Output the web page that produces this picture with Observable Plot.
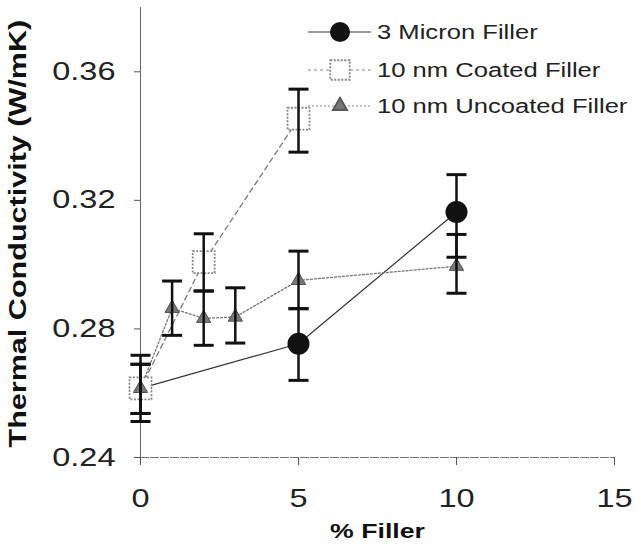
<!DOCTYPE html>
<html><head><meta charset="utf-8">
<script src="https://cdn.jsdelivr.net/npm/d3@7"></script>
<script src="https://cdn.jsdelivr.net/npm/@observablehq/plot@0.6"></script>
<style>
html,body{margin:0;padding:0;background:#fff;}
#wrap{position:relative;width:641px;height:551px;font-family:"Liberation Sans",Arial,Helvetica,sans-serif;}
#legend{position:absolute;left:0;top:0;pointer-events:none;}
</style></head><body><div id="wrap"></div>
<script>
// ---- data ----
const seriesNames = ["3 Micron Filler", "10 nm Coated Filler", "10 nm Uncoated Filler"];

const micronX  = [0, 5, 10];
const micronY  = [0.2615, 0.2754, 0.3164];
const micronLo = [0.2512, 0.2640, 0.3023];
const micronHi = [0.2718, 0.2863, 0.3280];

const coatedX  = [0, 2, 5];
const coatedY  = [0.2615, 0.3008, 0.3454];
const coatedLo = [0.2537, 0.2918, 0.3350];
const coatedHi = [0.2690, 0.3096, 0.3546];

const uncoatedX  = [0, 1, 2, 3, 5, 10];
const uncoatedY  = [0.2615, 0.2864, 0.2833, 0.2837, 0.2951, 0.2995];
const uncoatedLo = [0.2537, 0.2780, 0.2749, 0.2756, 0.2863, 0.2911];
const uncoatedHi = [0.2690, 0.2949, 0.2918, 0.2928, 0.3042, 0.3094];

const xTicks = [0, 5, 10, 15];
const yTicks = [0.24, 0.28, 0.32, 0.36];
const xLabel = "% Filler";
const yLabel = "Thermal Conductivity (W/mK)";

// ---- build tables ----
function rows(name, X, Y, L, H) {
  return X.map((x, i) => ({series: name, x, y: Y[i], lo: L[i], hi: H[i]}));
}
const micron = rows(seriesNames[0], micronX, micronY, micronLo, micronHi);
const coated = rows(seriesNames[1], coatedX, coatedY, coatedLo, coatedHi);
const uncoated = rows(seriesNames[2], uncoatedX, uncoatedY, uncoatedLo, uncoatedHi);
const all = [...micron, ...coated, ...uncoated];

const cap = {draw(ctx) { ctx.moveTo(-10, 0); ctx.lineTo(10, 0); }};
const FONT = '"Liberation Sans", Arial, Helvetica, sans-serif';
const STRETCH = 1.3;

const chart = Plot.plot({
  width: 641, height: 551,
  marginLeft: 140, marginRight: 27, marginTop: 7, marginBottom: 94,
  style: {fontFamily: FONT, fontSize: "25px", background: "white", color: "#222"},
  x: {domain: [0, 15]},
  y: {domain: [0.24, 0.38]},
  marks: [
    Plot.ruleX([0], {y1: 0.24, y2: 0.38, stroke: "#666", strokeWidth: 1}),
    Plot.ruleY([0.24], {x1: 0, x2: 15, stroke: "#777", strokeWidth: 1, strokeDasharray: "9,1"}),
    Plot.axisX({ticks: xTicks, tickSize: 8, tickPadding: 24, fontSize: 25, label: null, stroke: "#555", fill: "#222", tickFormat: d => String(d)}),
    Plot.axisY({ticks: yTicks, tickSize: 6, tickPadding: 19, fontSize: 25, label: null, stroke: "#555", fill: "#222", tickFormat: d3.format(".2f")}),
    Plot.line(micron, {x: "x", y: "y", stroke: "#333", strokeWidth: 1.2}),
    Plot.line(coated, {x: "x", y: "y", stroke: "#777", strokeWidth: 1.3, strokeDasharray: "5,4"}),
    Plot.line(uncoated, {x: "x", y: "y", stroke: "#777", strokeWidth: 1.3, strokeDasharray: "2,2"}),
    Plot.dot(micron, {x: "x", y: "y", symbol: "circle", r: 11, fill: "#111", stroke: "none"}),
    Plot.dot(coated, {x: "x", y: "y", symbol: "square", r: 12.4, fill: "white", stroke: "#888", strokeWidth: 1.8, strokeDasharray: "2,1.5"}),
    Plot.dot(uncoated, {x: "x", y: "y", symbol: "triangle", r: 5.3, fill: "#777", stroke: "#555", strokeWidth: 1}),
    Plot.ruleX(all, {x: "x", y1: "lo", y2: "hi", stroke: "#111", strokeWidth: 2.5}),
    Plot.dot(all, {x: "x", y: "lo", symbol: cap, fill: "none", stroke: "#111", strokeWidth: 3}),
    Plot.dot(all, {x: "x", y: "hi", symbol: cap, fill: "none", stroke: "#111", strokeWidth: 3}),
    Plot.text([xLabel], {text: d => d, frameAnchor: "bottom", dy: 80, lineAnchor: "bottom", fontSize: 20.5, fontWeight: "bold", fill: "#111"}),
    Plot.text([yLabel], {text: d => d, frameAnchor: "bottom-left", rotate: -90, textAnchor: "start", dx: -114.5, dy: -10, fontSize: 23.5, fontWeight: "bold", fill: "#111"})
  ]
});

const wrap = document.getElementById("wrap");
wrap.appendChild(chart);

// stretch all text along its own baseline to match the wide lettering
for (const t of chart.querySelectorAll("text")) {
  const L = t.getComputedTextLength();
  if (L > 0) {
    t.setAttribute("textLength", (L * STRETCH).toFixed(2));
    t.setAttribute("lengthAdjust", "spacingAndGlyphs");
  }
}

// ---- legend overlay ----
const legendRows = [
  {name: seriesNames[0], symbol: d3.symbolCircle, r: 10, fill: "#111", stroke: "none", dash: null, line: "#333", lineDash: null},
  {name: seriesNames[1], symbol: d3.symbolSquare, r: 11, fill: "white", stroke: "#888", dash: "2,1.5", line: "#888", lineDash: "3,3"},
  {name: seriesNames[2], symbol: d3.symbolTriangle, r: 5.3, fill: "#777", stroke: "#555", dash: null, line: "#888", lineDash: "2,2"}
];
const rowY = [32, 70, 106];
const lsvg = d3.select(wrap).append("svg").attr("id", "legend").attr("width", 641).attr("height", 551);
legendRows.forEach((d, i) => {
  const g = lsvg.append("g").attr("transform", `translate(0,${rowY[i]})`);
  g.append("line").attr("x1", 308).attr("x2", 371).attr("y1", 0).attr("y2", 0)
    .attr("stroke", d.line).attr("stroke-width", 1.2).attr("stroke-dasharray", d.lineDash);
  g.append("path").attr("transform", "translate(340,0)")
    .attr("d", d3.symbol(d.symbol, Math.PI * d.r * d.r)())
    .attr("fill", d.fill).attr("stroke", d.stroke).attr("stroke-width", 1.8).attr("stroke-dasharray", d.dash);
  g.append("text").attr("transform", `translate(377,0) scale(1.28,1)`).attr("dy", "0.36em")
    .attr("font-family", FONT).attr("font-size", 20).attr("fill", "#222").text(d.name);
});
</script>
</body></html>
